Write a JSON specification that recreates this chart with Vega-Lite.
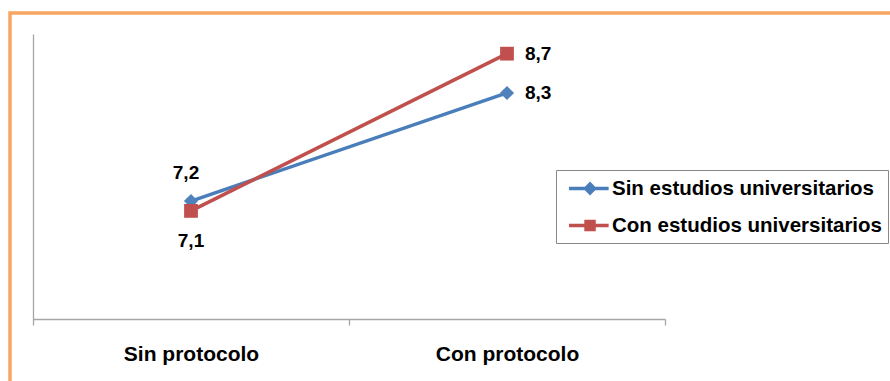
{
  "$schema": "https://vega.github.io/schema/vega-lite/v6.json",
  "autosize": {"type": "none"},
  "width": 884,
  "height": 372,
  "padding": {"left": 10, "top": 13, "right": -4, "bottom": -4},
  "background": "white",
  "config": {
    "view": {"stroke": "#F9A562", "strokeWidth": 3.5},
    "font": "Liberation Sans",
    "legend": {
      "orient": "none", "legendX": 546, "legendY": 157,
      "strokeColor": "#888888", "padding": 6,
      "labelFont": "Liberation Sans", "labelFontSize": 20.5, "labelFontWeight": "bold", "labelColor": "#000000",
      "labelLimit": 500, "symbolSize": 441, "symbolStrokeWidth": 3.5, "symbolOpacity": 1,
      "rowPadding": 13, "labelOffset": 25
    }
  },
  "data": {
    "values": [
      {"protocolo": "Sin protocolo", "serie": "Sin estudios universitarios", "valor": 7.2, "etiqueta": "7,2"},
      {"protocolo": "Con protocolo", "serie": "Sin estudios universitarios", "valor": 8.3, "etiqueta": "8,3"},
      {"protocolo": "Sin protocolo", "serie": "Con estudios universitarios", "valor": 7.1, "etiqueta": "7,1"},
      {"protocolo": "Con protocolo", "serie": "Con estudios universitarios", "valor": 8.7, "etiqueta": "8,7"}
    ]
  },
  "encoding": {
    "x": {
      "field": "protocolo",
      "type": "nominal",
      "sort": ["Sin protocolo", "Con protocolo"],
      "scale": {"type": "band", "range": [23, 655], "paddingInner": 0, "paddingOuter": 0},
      "axis": {
        "title": null, "orient": "bottom", "offset": -66, "labelAngle": 0,
        "domainColor": "#a6a6a6", "domainWidth": 1.3,
        "tickColor": "#a6a6a6", "tickWidth": 1.3, "tickSize": 6, "tickBand": "extent",
        "labelFont": "Liberation Sans", "labelFontSize": 21, "labelFontWeight": "bold",
        "labelColor": "#000000", "labelPadding": 18, "grid": false
      }
    },
    "y": {
      "field": "valor",
      "type": "quantitative",
      "scale": {"domain": [6, 8.9], "range": [306, 21], "nice": false, "zero": false},
      "axis": {
        "title": null, "offset": -23, "labels": false, "ticks": false, "grid": false,
        "domainColor": "#a6a6a6", "domainWidth": 1.3
      }
    }
  },
  "layer": [
    {
      "mark": {"type": "point", "filled": true, "opacity": 0, "strokeWidth": 3.5},
      "encoding": {
        "fill": {
          "field": "serie", "type": "nominal",
          "scale": {"domain": ["Sin estudios universitarios", "Con estudios universitarios"], "range": ["#4A7EBB", "#C0504D"]},
          "legend": {"title": null}
        },
        "stroke": {
          "field": "serie", "type": "nominal",
          "scale": {"domain": ["Sin estudios universitarios", "Con estudios universitarios"], "range": ["#4A7EBB", "#C0504D"]},
          "legend": {"title": null}
        },
        "shape": {
          "field": "serie", "type": "nominal",
          "scale": {"domain": ["Sin estudios universitarios", "Con estudios universitarios"], "range": ["M-0.52,0H3.25M1.48,-0.42L1.9,0L1.48,0.42L1.06,0Z", "M-0.52,0H3.25M1.1,-0.38H1.86V0.38H1.1Z"]},
          "legend": {"title": null}
        }
      }
    },
    {
      "mark": {"type": "line", "strokeWidth": 3.5},
      "encoding": {
        "color": {
          "field": "serie", "type": "nominal",
          "scale": {"domain": ["Sin estudios universitarios", "Con estudios universitarios"], "range": ["#4A7EBB", "#C0504D"]},
          "legend": null
        }
      }
    },
    {
      "transform": [{"filter": "datum.serie === 'Sin estudios universitarios'"}],
      "mark": {"type": "point", "shape": "diamond", "filled": true, "opacity": 1, "size": 200, "color": "#4F81BD"}
    },
    {
      "transform": [{"filter": "datum.serie === 'Con estudios universitarios'"}],
      "mark": {"type": "point", "shape": "square", "filled": true, "opacity": 1, "size": 190, "color": "#C0504D"}
    },
    {
      "transform": [{"filter": "datum.protocolo === 'Sin protocolo' && datum.serie === 'Sin estudios universitarios'"}],
      "mark": {"type": "text", "dy": -28, "dx": -5, "font": "Liberation Sans", "fontSize": 19, "fontWeight": "bold", "color": "#000000"},
      "encoding": {"text": {"field": "etiqueta"}}
    },
    {
      "transform": [{"filter": "datum.protocolo === 'Sin protocolo' && datum.serie === 'Con estudios universitarios'"}],
      "mark": {"type": "text", "dy": 30, "font": "Liberation Sans", "fontSize": 19, "fontWeight": "bold", "color": "#000000"},
      "encoding": {"text": {"field": "etiqueta"}}
    },
    {
      "transform": [{"filter": "datum.protocolo === 'Con protocolo'"}],
      "mark": {"type": "text", "dx": 18, "align": "left", "font": "Liberation Sans", "fontSize": 19, "fontWeight": "bold", "color": "#000000"},
      "encoding": {"text": {"field": "etiqueta"}}
    }
  ]
}
